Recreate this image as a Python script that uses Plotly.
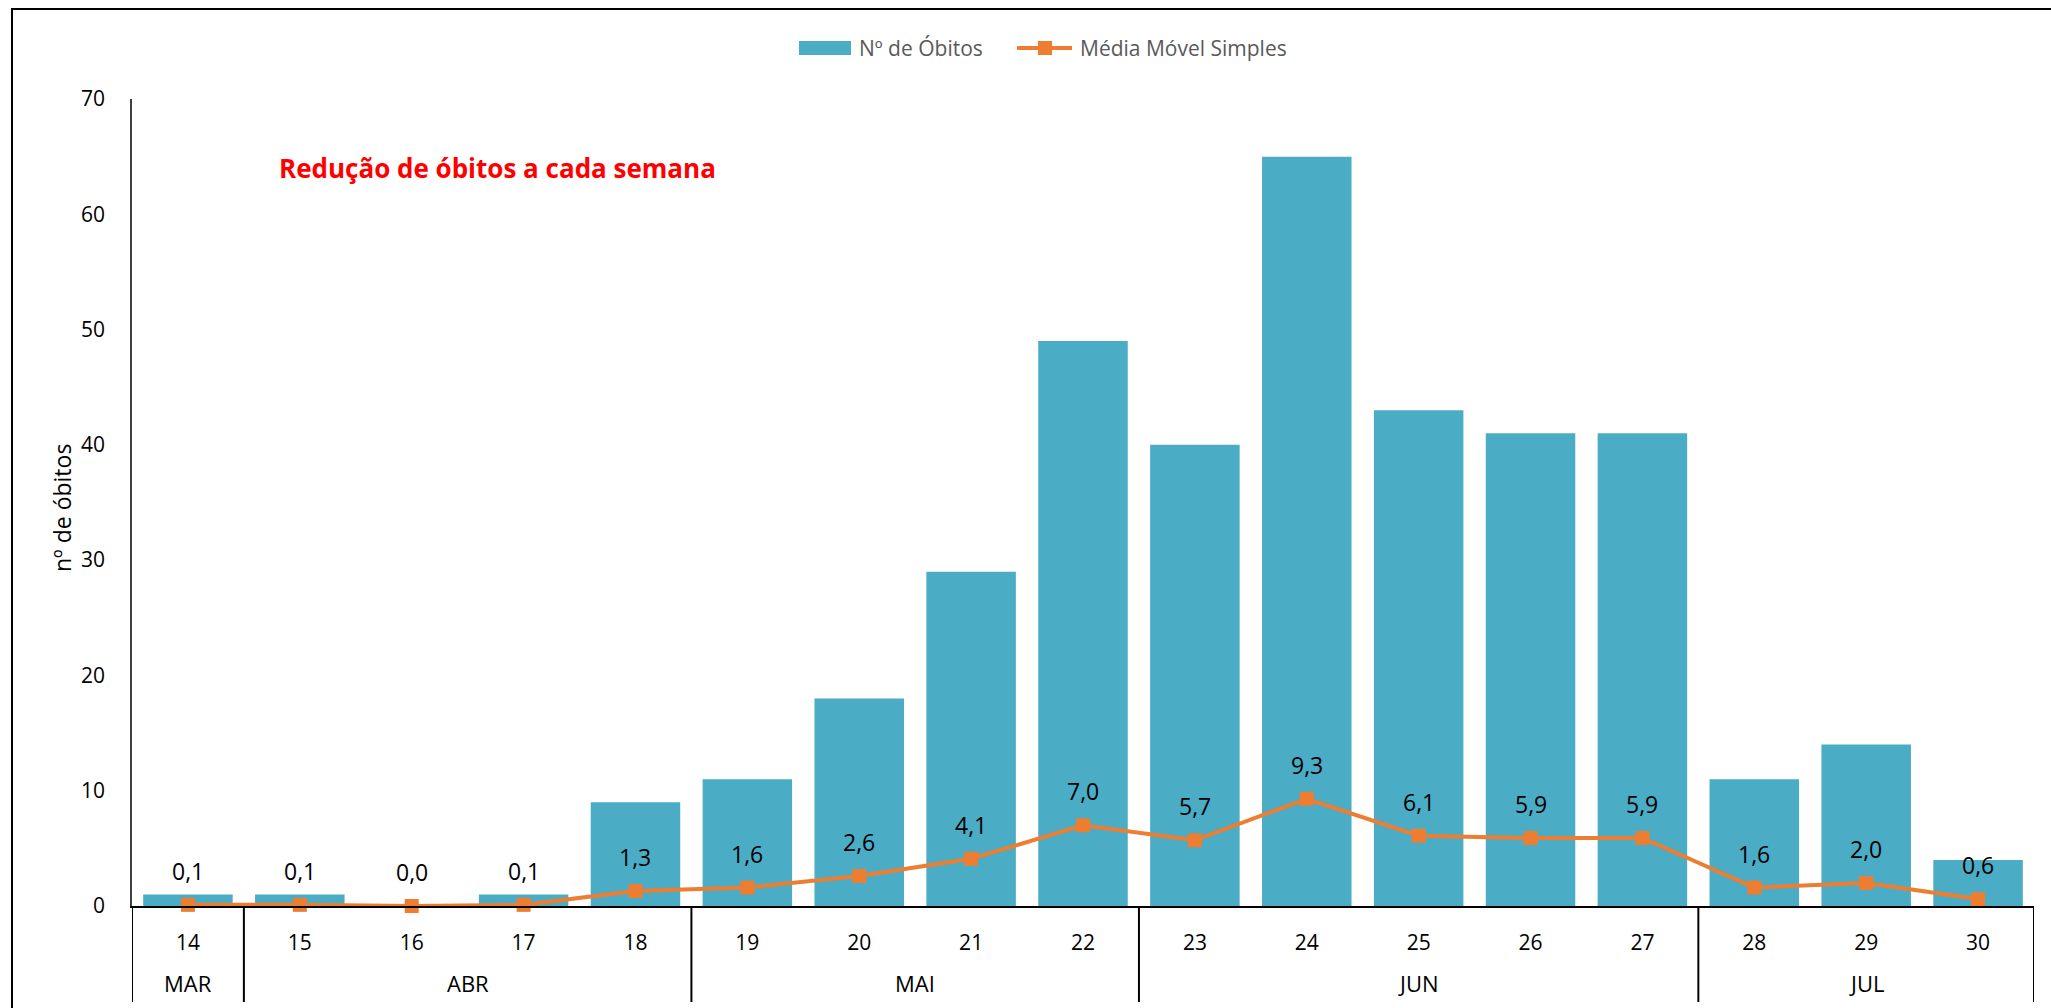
import plotly.graph_objects as go

# Epidemiological weeks and the month each block of weeks belongs to
weeks = ["14", "15", "16", "17", "18", "19", "20", "21", "22",
         "23", "24", "25", "26", "27", "28", "29", "30"]
months = ["MAR", "ABR", "MAI", "JUN", "JUL"]
weeks_per_month = [1, 4, 4, 5, 3]

# Weekly deaths and simple moving average
deaths = [1, 1, 0, 1, 9, 11, 18, 29, 49, 40, 65, 43, 41, 41, 11, 14, 4]
moving_avg = [0.1, 0.1, 0.0, 0.1, 1.3, 1.6, 2.6, 4.1, 7.0, 5.7, 9.3,
              6.1, 5.9, 5.9, 1.6, 2.0, 0.6]

series_names = ["Nº de Óbitos", "Média Móvel Simples"]

BAR_COLOR = "#4BACC6"
LINE_COLOR = "#ED7D31"
FONT = "Open Sans"

W, H = 2051, 1008
L, R, T, B = 132, 17, 99, 102
plot_w = W - L - R
plot_h = H - T - B


def px_x(p):
    return (p - L) / plot_w


def px_y(p):
    return (H - B - p) / plot_h


fig = go.Figure()

fig.add_trace(go.Bar(
    x=weeks, y=deaths, name=series_names[0],
    marker=dict(color=BAR_COLOR, line=dict(width=0)),
))

fig.add_trace(go.Scatter(
    x=weeks, y=moving_avg, name=series_names[1],
    mode="lines+markers",
    line=dict(color=LINE_COLOR, width=4),
    marker=dict(symbol="square", size=14, color=LINE_COLOR),
    cliponaxis=False,
))

annotations = []
shapes = []

# Value labels above the moving-average points (category index as x)
for i, v in enumerate(moving_avg):
    annotations.append(dict(
        x=i, y=v, xref="x", yref="y",
        text=f"{v:.1f}".replace(".", ","),
        showarrow=False, yanchor="middle", yshift=34,
        font=dict(family=FONT, size=23, color="#000000"),
    ))

# Month group labels and dividers under the week labels
start = 0
boundaries = [-0.5]
for m, n in zip(months, weeks_per_month):
    center = start + (n - 1) / 2
    annotations.append(dict(
        x=center, y=px_y(983), xref="x", yref="paper",
        text=m, showarrow=False, yanchor="middle",
        font=dict(family=FONT, size=22, color="#000000"),
    ))
    start += n
    boundaries.append(start - 0.5)

for bx in boundaries:
    shapes.append(dict(
        type="line", xref="x", yref="paper",
        x0=bx, x1=bx, y0=0, y1=px_y(1002),
        line=dict(color="#000000", width=2),
    ))

# Outer frame of the chart
shapes.append(dict(
    type="rect", xref="paper", yref="paper",
    x0=px_x(12), x1=px_x(2100), y0=px_y(1100), y1=px_y(9),
    line=dict(color="#000000", width=2), fillcolor="rgba(0,0,0,0)",
    layer="below",
))

# Legend drawn as keys + labels along the top
leg_y = px_y(48)
shapes.append(dict(
    type="rect", xref="paper", yref="paper",
    x0=px_x(799), x1=px_x(851), y0=px_y(55), y1=px_y(41),
    fillcolor=BAR_COLOR, line=dict(width=0),
))
shapes.append(dict(
    type="line", xref="paper", yref="paper",
    x0=px_x(1017), x1=px_x(1072), y0=leg_y, y1=leg_y,
    line=dict(color=LINE_COLOR, width=4),
))
shapes.append(dict(
    type="rect", xref="paper", yref="paper",
    x0=px_x(1038), x1=px_x(1052), y0=px_y(55), y1=px_y(41),
    fillcolor=LINE_COLOR, line=dict(width=0),
))
for name, left in zip(series_names, [857, 1078]):
    annotations.append(dict(
        x=px_x(left), y=leg_y, xref="paper", yref="paper",
        text=name, showarrow=False, xanchor="left", yanchor="middle",
        font=dict(family=FONT, size=21, color="#595959"),
    ))

# Highlight text
annotations.append(dict(
    x=px_x(277), y=px_y(168), xref="paper", yref="paper",
    text="<b>Redução de óbitos a cada semana</b>",
    showarrow=False, xanchor="left", yanchor="middle",
    font=dict(family=FONT, size=26, color="#FF0000"),
))

# Y-axis title
annotations.append(dict(
    x=px_x(62), y=px_y(508), xref="paper", yref="paper",
    text="nº de óbitos", textangle=-90,
    showarrow=False, xanchor="center", yanchor="middle",
    font=dict(family=FONT, size=23, color="#000000"),
))

fig.update_layout(
    width=W, height=H,
    margin=dict(l=L, r=R, t=T, b=B, autoexpand=False),
    paper_bgcolor="white", plot_bgcolor="white",
    bargap=0.2,
    separators=",.",
    font=dict(family=FONT, size=21, color="#000000"),
    showlegend=False,
    xaxis=dict(
        type="category", range=[-0.5, 16.5],
        showgrid=False, zeroline=False,
        showline=True, linecolor="#000000", linewidth=2,
        ticks="", ticklabelstandoff=17,
        tickfont=dict(family=FONT, size=21, color="#000000"),
    ),
    yaxis=dict(
        range=[0, 70], dtick=10,
        showgrid=False, zeroline=False,
        showline=True, linecolor="#404040", linewidth=1.5,
        ticks="", ticklabelstandoff=21,
        tickfont=dict(family=FONT, size=21, color="#000000"),
    ),
    annotations=annotations,
    shapes=shapes,
)

fig.write_html("out.html")
